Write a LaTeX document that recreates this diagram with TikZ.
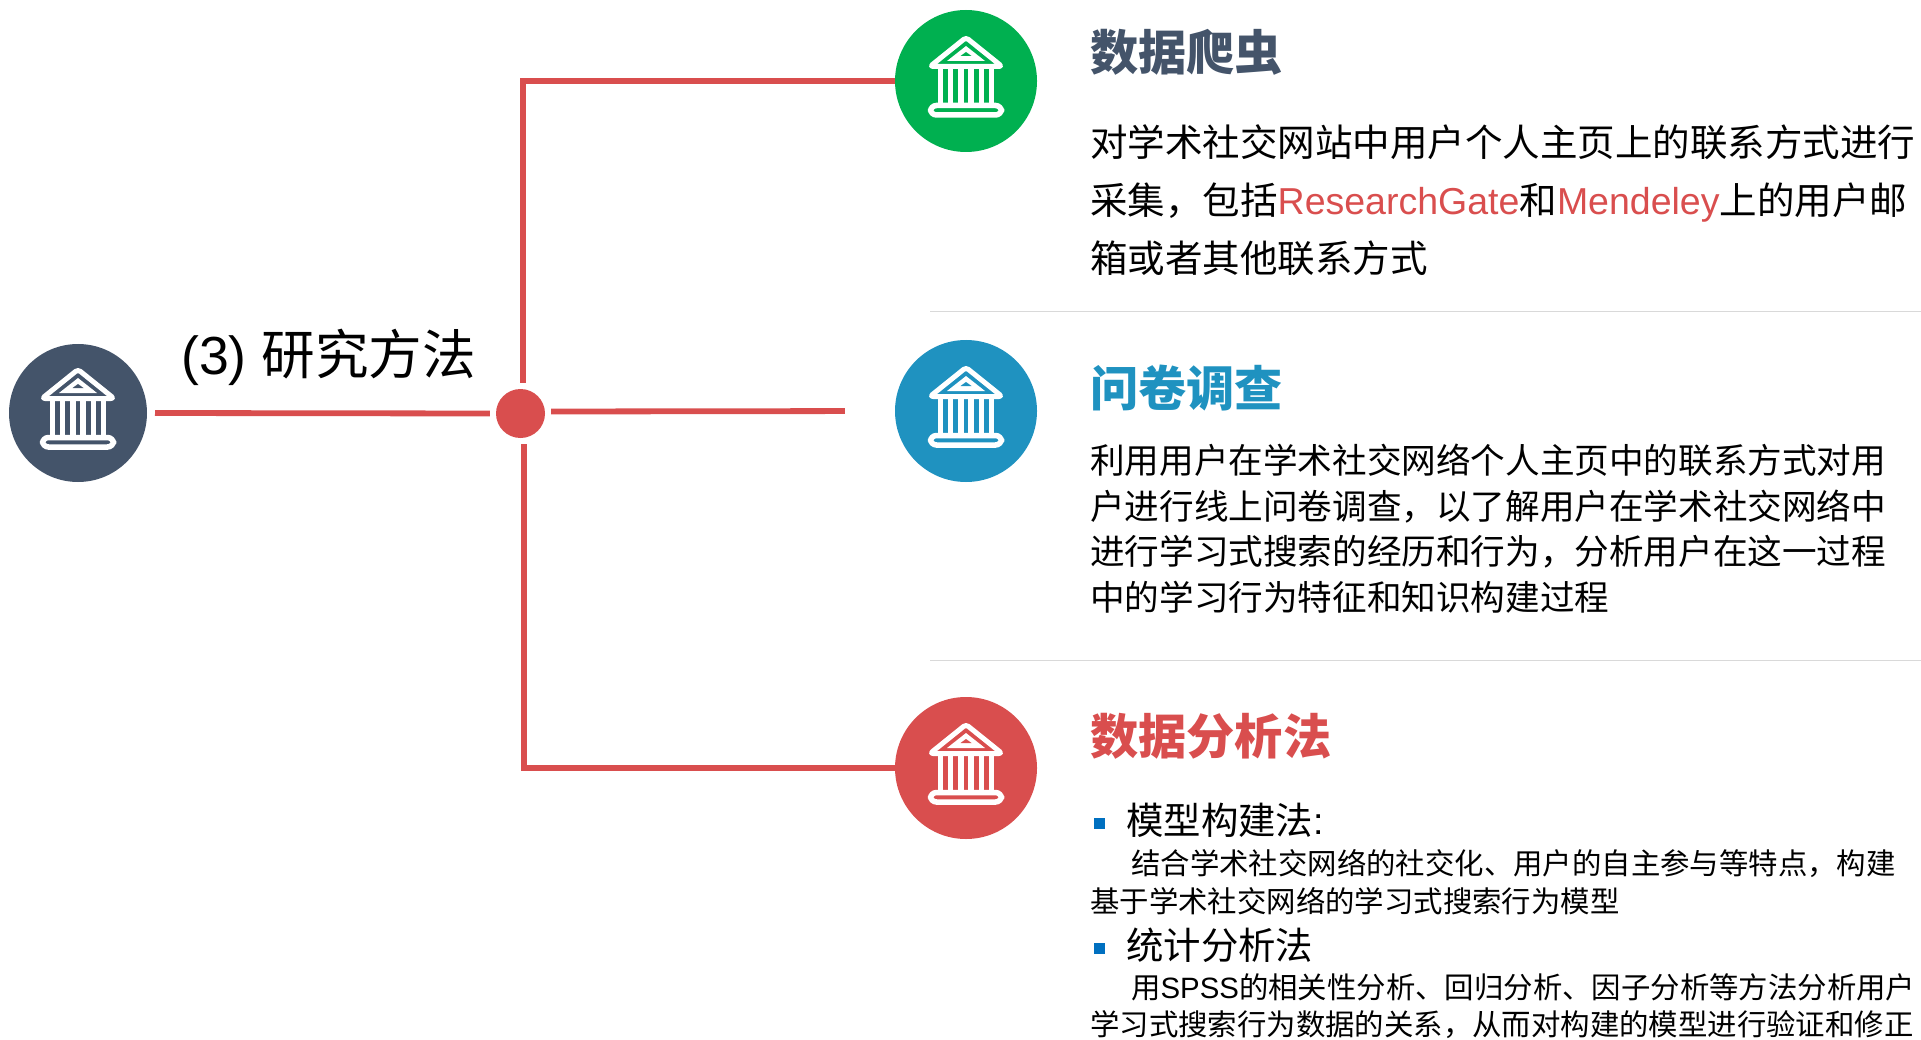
\documentclass[tikz,border=0pt]{standalone}
\usepackage{fontspec}
\setmainfont{Noto Sans CJK SC}
\newfontfamily\latinfont{Liberation Sans}
\usepackage{tikz}

\definecolor{leafgreen}{HTML}{00B050}
\definecolor{seablue}{HTML}{1F92C0}
\definecolor{brickred}{HTML}{D94E4E}
\definecolor{slateblue}{HTML}{44546A}
\definecolor{bulletblue}{HTML}{0070C0}

\tikzset{
  disc/.style={circle, fill=#1, minimum size=142pt, inner sep=0pt},
  redline/.style={draw=brickred, line width=5.8pt},
  rulegray/.style={draw=black!15, line width=0.8pt},
  heading/.style={anchor=west, inner sep=0pt, font=\fontsize{48.2}{48.2}\selectfont\bfseries},
  bodytext/.style={anchor=west, inner sep=0pt, align=left},
  smalltext/.style={anchor=west, inner sep=0pt, font=\fontsize{29.4}{29.4}\selectfont},
  itemtext/.style={anchor=west, inner sep=0pt, font=\fontsize{37.4}{37.4}\selectfont},
  bulletbox/.style={fill=bulletblue, minimum size=11pt, inner sep=0pt},
  pics/temple/.style={code={
    % roof
    \draw[white, line width=5pt, line join=round, rounded corners=3pt]
      (0,-43.5) -- (36,-14.5) -- (-36,-14.5) -- cycle;
    \fill[white] (0,-35) -- (19,-20) -- (-19,-20) -- cycle;
    \fill[#1] (0,-29) -- (5.5,-25) -- (-5.5,-25) -- cycle;
    % columns
    \foreach \xcol in {-25.5,-15.3,-5.1,5.1,15.3,25.5}
      \fill[white] (\xcol-2.7,-12) rectangle (\xcol+2.7,22);
    % base
    \draw[white, line width=5.5pt, rounded corners=6pt] (-35.5,24.5) rectangle (35.5,34);
  }}
}

\begin{document}
\begin{tikzpicture}[x=1pt, y=-1pt]
\useasboundingbox (0,0) rectangle (1921,1040);

% Left side
\node[circle, fill=slateblue, minimum size=138pt, inner sep=0pt] (root) at (78,413) {};
\pic at (root) {temple=slateblue};
\node[anchor=west, inner sep=0pt, font=\fontsize{53.6}{53.6}\selectfont] (title) at (181,357) {{\latinfont (3) }研究方法};
\node[circle, fill=brickred, minimum size=49pt, inner sep=0pt] (hub) at (520.5,413.5) {};

% Right side discs
\node[disc=leafgreen] (crawl) at (966,81) {};
\pic at (crawl) {temple=leafgreen};
\node[disc=seablue] (survey) at (966,411) {};
\pic at (survey) {temple=seablue};
\node[disc=brickred] (analysis) at (966,768) {};
\pic at (analysis) {temple=brickred};

% Connectors
\draw[redline, shorten >=6pt, shorten <=8pt] (root) ++(69,0) coordinate (rootedge) (rootedge) -- (hub.west);
\draw[redline, shorten <=6pt] ([xshift=2.5pt]hub.north) |- (crawl);
\draw[redline, shorten <=6pt] ([xshift=3.5pt]hub.south) |- (analysis);
\draw[redline, shorten <=6pt, shorten >=50pt] ([yshift=2pt]hub.east) -- (survey.west);

% Separators
\coordinate (ruleastart) at (930,311);
\coordinate (ruleaend) at (1921,311);
\coordinate (rulebstart) at (930,660);
\coordinate (rulebend) at (1921,660);
\draw[rulegray] (ruleastart) -- (ruleaend);
\draw[rulegray] (rulebstart) -- (rulebend);

% Data crawling
\node[heading, text=slateblue] (crawlhead) at (1090,52) {数据爬虫};
\node[bodytext, font=\fontsize{37.5}{58}\selectfont] (crawlbody) at (1090,200) {对学术社交网站中用户个人主页上的联系方式进行\\
采集，包括{\latinfont\color{brickred}ResearchGate}和{\latinfont\color{brickred}Mendeley}上的用户邮\\
箱或者其他联系方式};

% Questionnaire
\node[heading, text=seablue] (surveyhead) at (1090,388) {问卷调查};
\node[bodytext, font=\fontsize{34.6}{45.5}\selectfont] (surveybody) at (1090,528.5) {利用用户在学术社交网络个人主页中的联系方式对用\\
户进行线上问卷调查，以了解用户在学术社交网络中\\
进行学习式搜索的经历和行为，分析用户在这一过程\\
中的学习行为特征和知识构建过程};

% Data analysis
\node[heading, text=brickred] (analysishead) at (1090,736) {数据分析法};
\node[bulletbox] (bulleta) at (1099,823) {};
\node[itemtext] (itema) at (1126,820) {模型构建法{\latinfont :}};
\node[smalltext] (itemaone) at (1131,864) {结合学术社交网络的社交化、用户的自主参与等特点，构建};
\node[smalltext] (itematwo) at (1090,901) {基于学术社交网络的学习式搜索行为模型};
\node[bulletbox] (bulletb) at (1099,948) {};
\node[itemtext] (itemb) at (1126,945) {统计分析法};
\node[smalltext] (itembone) at (1131,987) {用{\latinfont SPSS}的相关性分析、回归分析、因子分析等方法分析用户};
\node[smalltext] (itembtwo) at (1090,1025) {学习式搜索行为数据的关系，从而对构建的模型进行验证和修正};
\end{tikzpicture}
\end{document}
